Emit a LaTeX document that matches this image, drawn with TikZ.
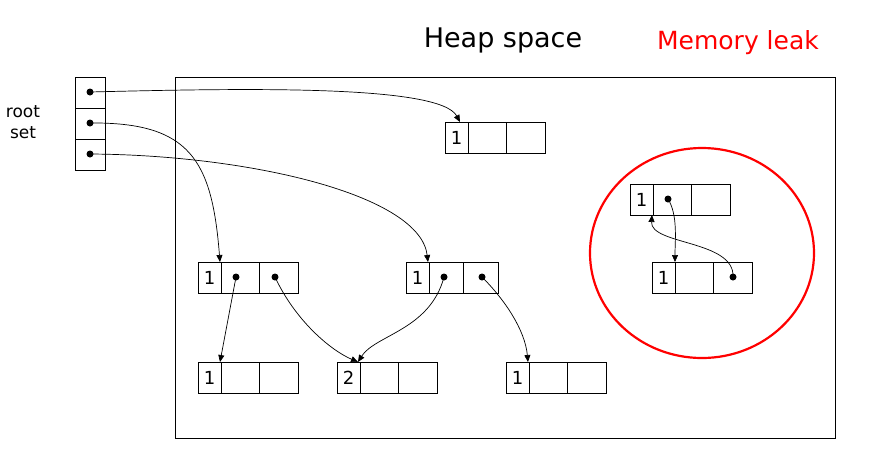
\documentclass[tikz,border=0pt]{standalone}
\usepackage{fontspec}
\setmainfont{DejaVu Sans}
\usetikzlibrary{arrows.meta}
\begin{document}
\begin{tikzpicture}[x=1pt,y=-1pt,
  cell/.style={draw,line width=0.8pt},
  ptr/.style={-{Triangle[length=7pt,width=6pt]},line width=0.7pt},
  dot/.style={circle,fill,inner sep=0,minimum size=7pt},
  num/.style={font=\fontsize{18}{18}\selectfont}]
\useasboundingbox (0,0) rectangle (871,456);
\draw[line width=0.8pt] (175,77) rectangle (835,438);
\node[font=\fontsize{27}{27}\selectfont] (heap) at (503,40) {Heap space};
\node[font=\fontsize{25}{25}\selectfont,text=red] (leak) at (738,43) {Memory leak};
\node[font=\fontsize{17}{21}\selectfont,align=center] (rs) at (23,122) {root\\set};
\draw[red,line width=2.2pt] (702,253) ellipse (112 and 105);
% root set
\draw[cell] (75,77) rectangle (105,108) (75,108) rectangle (105,139) (75,139) rectangle (105,170);
\node[dot] (r1) at (90,92) {}; \node[dot] (r2) at (90,123) {}; \node[dot] (r3) at (90,154) {};
\newcommand{\rec}[4]{%
 \draw[cell] (#1,#2) rectangle ++(23,31) (#1+23,#2) rectangle ++(#3,31) (#1+23+#3,#2) rectangle ++(#3,31);
 \node[num] at (#1+11.5,#2+15.5) {#4};}
\rec{445}{122}{38.5}{1}
\rec{198}{262}{38.5}{1}
\rec{406}{262}{34.5}{1}
\rec{198}{362}{38.5}{1}
\rec{337}{362}{38.5}{2}
\rec{506}{362}{38.5}{1}
\rec{630}{184}{38.5}{1}
\rec{652}{262}{38.5}{1}
\coordinate (t) at (460,122);
\coordinate (a) at (220,262); \coordinate (b) at (428,262);
\coordinate (c1) at (220,362); \coordinate (c2) at (358,362); \coordinate (c3) at (528,362);
\coordinate (l1) at (652,215); \coordinate (l2) at (675,262);
\node[dot] (a1) at (236,277) {}; \node[dot] (a2) at (275,277) {};
\node[dot] (b1) at (444,277) {}; \node[dot] (b2) at (482,277) {};
\node[dot] (m1) at (668,199) {}; \node[dot] (m2) at (733,277) {};
\draw[ptr] (r1.center) .. controls (250,88) and (440,85) .. (t);
\draw[ptr] (r2.center) .. controls (190,122) and (212,160) .. (a);
\draw[ptr] (r3.center) .. controls (250,155) and (420,195) .. (b);
\draw[ptr] (a1.center) -- (c1);
\draw[ptr] (a2.center) .. controls (295,320) and (330,350) .. (c2);
\draw[ptr] (b1.center) .. controls (430,330) and (375,335) .. (c2);
\draw[ptr] (b2.center) .. controls (505,300) and (525,330) .. (c3);
\draw[ptr] (m1.center) .. controls (678,215) and (675,240) .. (l2);
\draw[ptr] (m2.center) .. controls (735,240) and (650,245) .. (l1);
\end{tikzpicture}
\end{document}
